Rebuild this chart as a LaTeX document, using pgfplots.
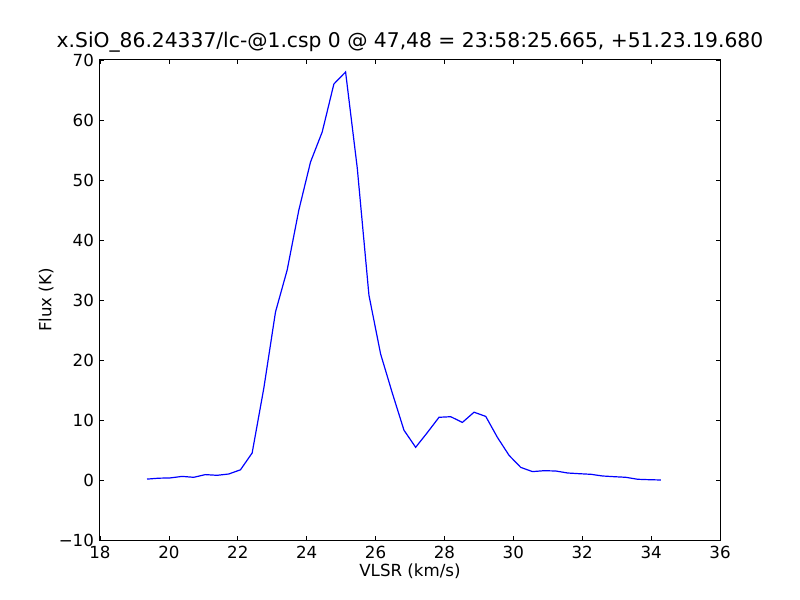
\documentclass[border=0pt]{standalone}
\usepackage{fontspec}
\setmainfont{DejaVu Sans}
\usepackage{pgfplots}
\pgfplotsset{compat=1.18}
\begin{document}
\begin{tikzpicture}
\useasboundingbox (-75pt,-45pt) rectangle (525pt,405pt);
\begin{axis}[
  at={(0,0)}, anchor=south west,
  width=465pt, height=360pt, scale only axis,
  xmin=18, xmax=36, ymin=-10, ymax=70,
  xtick={18,20,...,36},
  ytick={-10,0,...,70},
  yticklabels={−10,0,10,20,30,40,50,60,70},
  /pgf/number format/assume math mode=true,
  tick align=inside,
  major tick length=3pt,
  tick style={black, line width=0.5pt},
  axis line style={black, line width=0.75pt},
  tick label style={font=\fontsize{12.5}{14}\selectfont},
  xticklabel style={yshift=-1pt},
  yticklabel style={xshift=-1pt},
  xlabel={VLSR (km/s)},
  ylabel={Flux (K)},
  label style={font=\fontsize{12.5}{14}\selectfont},
  xlabel style={yshift=3pt},
  ylabel style={yshift=-3pt},
  title={x.SiO\_86.24337/lc-@1.csp 0 @ 47,48 = 23:58:25.665, +51.23.19.680},
  title style={font=\fontsize{15.2}{17}\selectfont, yshift=-4pt},
]
\addplot[blue, line width=0.9pt] table {
x y
19.365 0.15
19.704 0.3
20.043 0.35
20.382 0.6
20.721 0.45
21.060 0.9
21.399 0.78
21.738 1.0
22.078 1.7
22.417 4.5
22.756 15.3
23.095 28.0
23.434 35.0
23.773 45.0
24.112 53.0
24.451 58.0
24.790 66.0
25.130 68.0
25.469 52.0
25.808 30.8
26.147 21.0
26.486 14.5
26.825 8.3
27.164 5.45
27.503 7.9
27.842 10.45
28.182 10.55
28.521 9.6
28.860 11.3
29.199 10.6
29.538 7.1
29.877 4.1
30.216 2.1
30.555 1.4
30.894 1.55
31.234 1.5
31.573 1.17
31.912 1.05
32.251 0.95
32.590 0.67
32.929 0.55
33.268 0.45
33.607 0.12
33.946 0.05
34.286 0.0
};
\end{axis}
\end{tikzpicture}
\end{document}
